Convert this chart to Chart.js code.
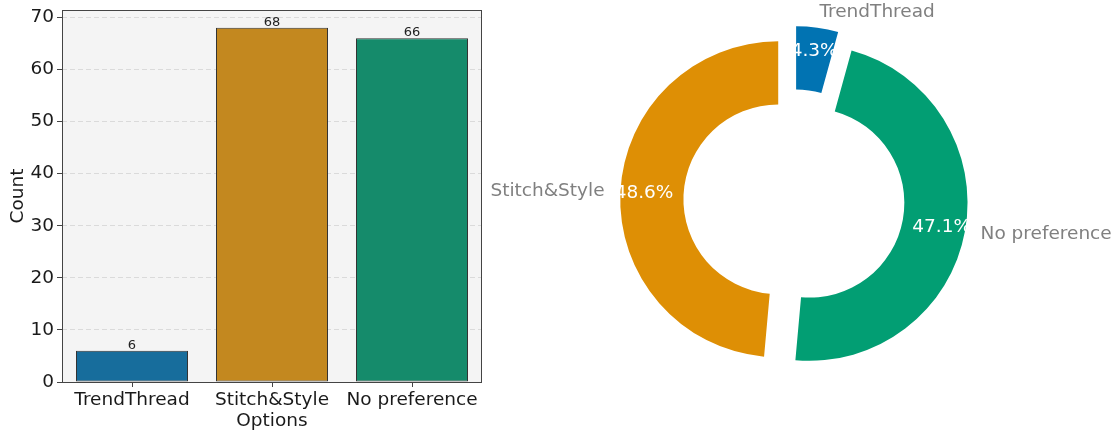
<!DOCTYPE html>
<html>
<head>
<meta charset="utf-8">
<script src="https://cdn.jsdelivr.net/npm/chart.js@4"></script>
<style>
  html, body { margin: 0; padding: 0; background: #fff; }
  body { width: 1119px; height: 435px; position: relative; overflow: hidden; }
  canvas { position: absolute; top: 0; }
  #barChart { left: 0; width: 485px; height: 435px; }
  #pieChart { left: 485px; width: 634px; height: 435px; }
</style>
</head>
<body>
<canvas id="barChart" width="485" height="435"></canvas>
<canvas id="pieChart" width="634" height="435"></canvas>
<script>
const categories = ["TrendThread", "Stitch&Style", "No preference"];
const counts = [6, 68, 66];
const yTicks = [0, 10, 20, 30, 40, 50, 60, 70];
const barColors = ["#176d9c", "#c3881f", "#158b6b"];
const pieColors = ["#0173b2", "#de8f05", "#029e73"];
// order of the slices clockwise from the top
const pieOrder = [0, 2, 1];

const FS = 18.5;
Chart.defaults.font.family = "'DejaVu Sans', sans-serif";
Chart.defaults.animation = false;

const frame = {
  id: "frame",
  beforeDraw(chart) {
    const a = chart.chartArea;
    chart.ctx.save();
    chart.ctx.fillStyle = "#f4f4f4";
    chart.ctx.fillRect(a.left, a.top, a.right - a.left, a.bottom - a.top);
    chart.ctx.restore();
  },
  afterDraw(chart) {
    const a = chart.chartArea;
    const ctx = chart.ctx;
    ctx.save();
    ctx.strokeStyle = "#444";
    ctx.lineWidth = 1;
    ctx.strokeRect(a.left + 0.5, a.top + 0.5, a.right - a.left - 1, a.bottom - a.top);
    ctx.restore();
  },
  afterDatasetsDraw(chart) {
    const ctx = chart.ctx;
    ctx.save();
    ctx.font = "13px 'DejaVu Sans'";
    ctx.fillStyle = "#222";
    ctx.textAlign = "center";
    ctx.textBaseline = "bottom";
    chart.getDatasetMeta(0).data.forEach((bar, i) => {
      ctx.fillText(String(counts[i]), bar.x, bar.y + 1);
    });
    ctx.restore();
  },
};

new Chart(document.getElementById("barChart"), {
  type: "bar",
  data: {
    labels: categories,
    datasets: [{
      data: counts,
      backgroundColor: barColors,
      borderColor: "#333",
      borderWidth: 1,
      borderSkipped: false,
      barPercentage: 0.8,
      categoryPercentage: 1.0,
    }],
  },
  options: {
    responsive: false,
    layout: { padding: { top: 10, right: 3, left: 0, bottom: 0 } },
    plugins: { legend: { display: false }, tooltip: { enabled: false } },
    scales: {
      x: {
        grid: { offset: false, drawOnChartArea: false, tickLength: 5, tickColor: "#444" },
        border: { display: false },
        ticks: { color: "#1a1a1a", font: { size: FS }, padding: 2, maxRotation: 0 },
        title: { display: true, text: "Options", color: "#1a1a1a", font: { size: FS }, padding: { top: 0, bottom: 3 } },
        afterFit: (s) => { s.height = 53; s.paddingLeft = 0; s.paddingRight = 0; },
      },
      y: {
        min: 0,
        max: Math.max(...counts) * 1.05,
        grid: { color: "#dadada", tickLength: 5, tickColor: "#444" },
        border: { display: false, dash: [5, 3] },
        ticks: { stepSize: 10, includeBounds: false, color: "#1a1a1a", font: { size: FS }, padding: 3 },
        afterBuildTicks: (s) => { s.ticks = yTicks.map((v) => ({ value: v })); },
        title: { display: true, text: "Count", color: "#1a1a1a", font: { size: FS }, padding: { top: 7, bottom: 0 } },
        afterFit: (s) => { s.width = 62; s.paddingTop = 0; s.paddingBottom = 0; },
      },
    },
  },
  plugins: [frame],
});

const total = counts.reduce((a, b) => a + b, 0);
const EXPLODE = 0.1;

const pieText = {
  id: "pieText",
  beforeDatasetDraw(chart, args) {
    const ctx = chart.ctx;
    args.meta.data.forEach((arc) => {
      const mid = (arc.startAngle + arc.endAngle) / 2;
      const d = EXPLODE * arc.outerRadius;
      ctx.save();
      ctx.translate(Math.cos(mid) * d, Math.sin(mid) * d);
      arc.draw(ctx);
      ctx.restore();
    });
    return false;
  },
  afterDatasetsDraw(chart) {
    const ctx = chart.ctx;
    const labels = chart.data.labels;
    const values = chart.data.datasets[0].data;
    ctx.save();
    ctx.font = FS + "px 'DejaVu Sans'";
    ctx.textBaseline = "middle";
    chart.getDatasetMeta(0).data.forEach((arc, i) => {
      const mid = (arc.startAngle + arc.endAngle) / 2;
      const R = arc.outerRadius;
      const cx = arc.x + Math.cos(mid) * EXPLODE * R;
      const cy = arc.y + Math.sin(mid) * EXPLODE * R;
      ctx.fillStyle = "#808080";
      ctx.textAlign = Math.cos(mid) >= 0 ? "left" : "right";
      ctx.fillText(labels[i], cx + Math.cos(mid) * 1.1 * R, cy + Math.sin(mid) * 1.1 * R);
      ctx.fillStyle = "#ffffff";
      ctx.textAlign = "center";
      const pct = (values[i] / total * 100).toFixed(1) + "%";
      ctx.fillText(pct, cx + Math.cos(mid) * 0.85 * R, cy + Math.sin(mid) * 0.85 * R);
    });
    ctx.restore();
  },
};

new Chart(document.getElementById("pieChart"), {
  type: "doughnut",
  data: {
    labels: pieOrder.map((i) => categories[i]),
    datasets: [{
      data: pieOrder.map((i) => counts[i]),
      backgroundColor: pieOrder.map((i) => pieColors[i]),
      borderWidth: 0,
    }],
  },
  options: {
    responsive: false,
    rotation: 0,
    radius: 158,
    cutout: "60%",
    layout: { padding: { left: 0, right: 16, top: 0, bottom: 35 } },
    plugins: { legend: { display: false }, tooltip: { enabled: false } },
  },
  plugins: [pieText],
});
</script>
</body>
</html>
